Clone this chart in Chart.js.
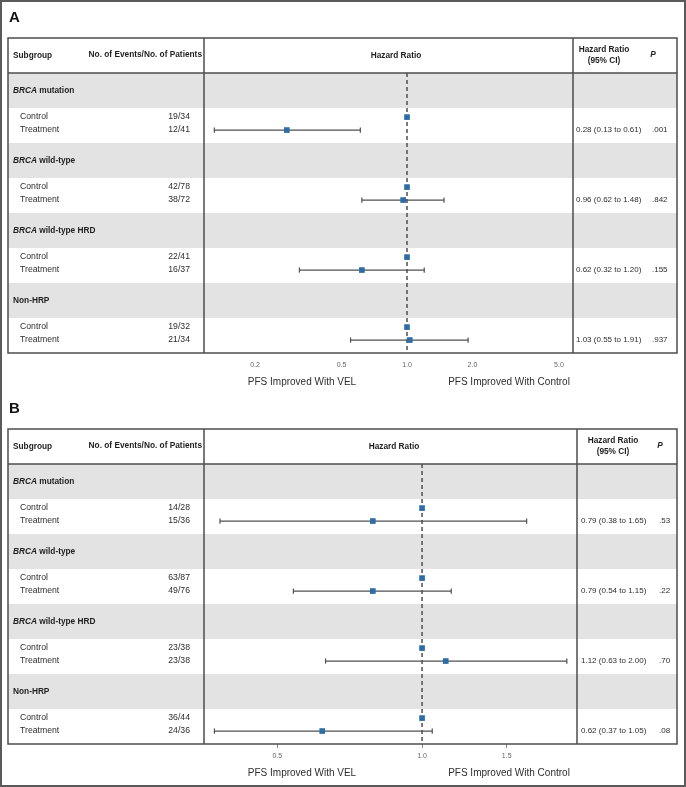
<!DOCTYPE html>
<html>
<head>
<meta charset="utf-8">
<script src="https://cdn.jsdelivr.net/npm/chart.js@4.4.1/dist/chart.umd.min.js"></script>
<style>
  body { margin: 0; background: #fff; }
  #page { position: relative; width: 686px; height: 787px; box-sizing: border-box; border: 2px solid #5a5a5a; }
  canvas { position: absolute; left: -2px; }
  #panelA { top: -2px; }
  #panelB { top: 389px; }
</style>
</head>
<body>
<div id="page">
  <canvas id="panelA" width="686" height="395"></canvas>
  <canvas id="panelB" width="686" height="395"></canvas>
</div>
<script>
// subgroups (same in both panels)
const subgroups = ['BRCA mutation', 'BRCA wild-type', 'BRCA wild-type HRD', 'Non-HRP'];

// panel A
const controlA = ['19/34', '42/78', '22/41', '19/32'];
const treatA = ['12/41', '38/72', '16/37', '21/34'];
const hrA = [0.28, 0.96, 0.62, 1.03];
const loA = [0.13, 0.62, 0.32, 0.55];
const hiA = [0.61, 1.48, 1.20, 1.91];
const pA = ['.001', '.842', '.155', '.937'];
const ticksA = [0.2, 0.5, 1, 2, 5];

// panel B
const controlB = ['14/28', '63/87', '23/38', '36/44'];
const treatB = ['15/36', '49/76', '23/38', '24/36'];
const hrB = [0.79, 0.79, 1.12, 0.62];
const loB = [0.38, 0.54, 0.63, 0.37];
const hiB = [1.65, 1.15, 2.00, 1.05];
const pB = ['.53', '.22', '.70', '.08'];
const ticksB = [0.5, 1, 1.5];

const FONT = '"Liberation Sans", Arial, Helvetica, sans-serif';
const BLUE = '#2e6ca6';
const LINE = '#4d4d4d';

function makePanel(id, letter, d, lay) {
  const ctrlY = g => 2 * g + 1.26;
  const treatY = g => 2 * g + 1.63;

  const datasets = [];
  // markers: control at HR 1, treatment at estimate
  const pts = [];
  d.hr.forEach((v, g) => {
    pts.push({ x: 1, y: ctrlY(g) });
    pts.push({ x: v, y: treatY(g) });
  });
  datasets.push({
    data: pts, pointStyle: 'rect', pointRadius: 4, pointHoverRadius: 4,
    backgroundColor: BLUE, borderColor: BLUE, borderWidth: 0, order: 0
  });
  // confidence intervals
  d.hr.forEach((v, g) => {
    datasets.push({
      data: [{ x: d.lo[g], y: treatY(g) }, { x: d.hi[g], y: treatY(g) }],
      showLine: true, borderColor: '#505050', borderWidth: 1.3,
      pointStyle: 'line', pointRotation: 90, pointRadius: 2.6, pointHoverRadius: 2.6,
      pointBorderColor: '#505050', pointBorderWidth: 1.2, order: 1
    });
  });
  // reference line at HR = 1
  datasets.push({
    data: [{ x: 1, y: 0 }, { x: 1, y: 8 }], showLine: true,
    borderColor: '#505050', borderWidth: 1.5, borderDash: [4, 3], pointRadius: 0, order: 2
  });

  const tablePlugin = {
    id: 'table' + letter,
    beforeDraw(chart) {
      const { ctx, scales: { y } } = chart;
      ctx.save();
      ctx.fillStyle = '#e3e3e3';
      for (let g = 0; g < 4; g++) {
        const t = y.getPixelForValue(2 * g), b = y.getPixelForValue(2 * g + 1);
        ctx.fillRect(8, t, 677 - 8, b - t);
      }
      ctx.restore();
    },
    afterDraw(chart) {
      const { ctx, chartArea: a, scales: { y } } = chart;
      ctx.save();
      // table lines
      ctx.strokeStyle = LINE;
      ctx.lineWidth = 1.5;
      ctx.strokeRect(8, 38, 677 - 8, a.bottom - 38);
      ctx.beginPath();
      ctx.moveTo(8, a.top); ctx.lineTo(677, a.top);
      ctx.moveTo(a.left, 38); ctx.lineTo(a.left, a.bottom);
      ctx.moveTo(a.right, 38); ctx.lineTo(a.right, a.bottom);
      ctx.stroke();

      ctx.textBaseline = 'middle';
      // panel letter
      ctx.fillStyle = '#111';
      ctx.font = 'bold 15px ' + FONT;
      ctx.textAlign = 'left';
      ctx.fillText(letter, 9, 18);

      // header
      ctx.fillStyle = '#1e1e1e';
      ctx.font = 'bold 8.3px ' + FONT;
      ctx.fillText('Subgroup', 13, 56);
      ctx.textAlign = 'right';
      ctx.fillText('No. of Events/No. of Patients', 202, 55);
      ctx.textAlign = 'center';
      ctx.fillText('Hazard Ratio', lay.hrHeadX, 56);
      ctx.fillText('Hazard Ratio', lay.ciHeadX, 50);
      ctx.fillText('(95% CI)', lay.ciHeadX, 61);
      ctx.font = 'italic bold 8.3px ' + FONT;
      ctx.fillText('P', lay.pHeadX, 55);

      // rows
      subgroups.forEach((name, g) => {
        const gy = y.getPixelForValue(2 * g + 0.5);
        ctx.textAlign = 'left';
        ctx.fillStyle = '#1e1e1e';
        let x = 13;
        let rest = name;
        if (name.startsWith('BRCA')) {
          ctx.font = 'italic bold 8.3px ' + FONT;
          ctx.fillText('BRCA', x, gy);
          x += ctx.measureText('BRCA').width;
          rest = name.slice(4);
        }
        ctx.font = 'bold 8.3px ' + FONT;
        ctx.fillText(rest, x, gy);

        const cy = y.getPixelForValue(ctrlY(g));
        const ty = y.getPixelForValue(treatY(g));
        ctx.fillStyle = '#2e2e2e';
        ctx.font = '8.7px ' + FONT;
        ctx.fillText('Control', 20, cy);
        ctx.fillText('Treatment', 20, ty);
        ctx.textAlign = 'right';
        ctx.fillText(d.ctrl[g], 190, cy);
        ctx.fillText(d.treat[g], 190, ty);

        ctx.textAlign = 'left';
        ctx.font = '8px ' + FONT;
        const txt = d.hr[g].toFixed(2) + ' (' + d.lo[g].toFixed(2) + ' to ' + d.hi[g].toFixed(2) + ')';
        ctx.fillText(txt, lay.hrTextX, ty);
        ctx.fillText(d.p[g], lay.pX, ty);
      });

      // direction labels
      ctx.fillStyle = '#2e2e2e';
      ctx.font = '10px ' + FONT;
      ctx.textAlign = 'center';
      ctx.fillText('PFS Improved With VEL', 302, 382);
      ctx.fillText('PFS Improved With Control', 509, 382);
      ctx.restore();
    }
  };

  return new Chart(document.getElementById(id), {
    type: 'scatter',
    data: { datasets },
    options: {
      responsive: false,
      animation: false,
      clip: false,
      layout: { padding: { left: 204, right: 686 - lay.right, top: 73, bottom: 22 } },
      plugins: { legend: { display: false }, tooltip: { enabled: false } },
      scales: {
        x: {
          type: 'logarithmic', min: lay.min, max: lay.max,
          grid: { display: lay.tickMarks, drawOnChartArea: false, drawTicks: lay.tickMarks, tickLength: 4, color: '#888' },
          border: { display: false },
          ticks: {
            autoSkip: false, maxRotation: 0, padding: lay.tickMarks ? 4 : 8, color: '#666',
            font: { size: 7, family: FONT },
            callback: v => Number(v).toFixed(1)
          },
          afterBuildTicks: s => { s.ticks = d.ticks.map(v => ({ value: v })); },
          afterFit: s => { s.height = 20; }
        },
        y: { type: 'linear', min: 0, max: 8, reverse: true, display: false }
      }
    },
    plugins: [tablePlugin]
  });
}

makePanel('panelA', 'A',
  { ctrl: controlA, treat: treatA, hr: hrA, lo: loA, hi: hiA, p: pA, ticks: ticksA },
  { right: 573, min: 0.1165, max: 5.8, hrHeadX: 396, ciHeadX: 604, pHeadX: 653, hrTextX: 576, pX: 652, tickMarks: false });

makePanel('panelB', 'B',
  { ctrl: controlB, treat: treatB, hr: hrB, lo: loB, hi: hiB, p: pB, ticks: ticksB },
  { right: 577, min: 0.352, max: 2.10, hrHeadX: 394, ciHeadX: 613, pHeadX: 660, hrTextX: 581, pX: 659, tickMarks: true });
</script>
</body>
</html>
